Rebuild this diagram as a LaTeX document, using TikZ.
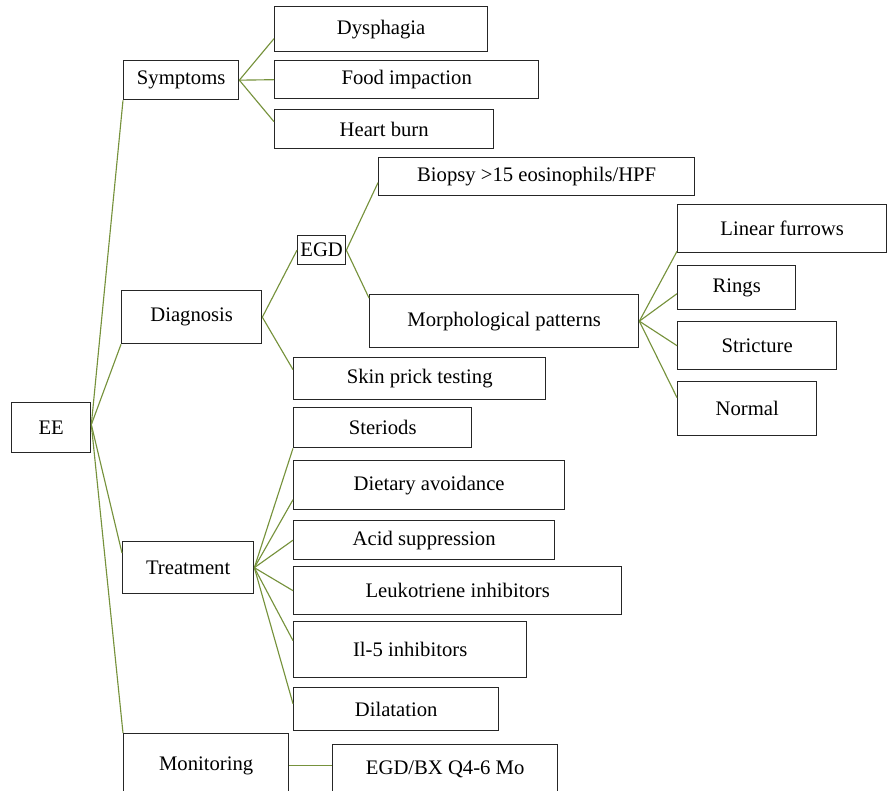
\documentclass[tikz,border=0pt]{standalone}
\usepackage{fontspec}
\setmainfont{Liberation Serif}
\definecolor{branch}{RGB}{118,146,60}
\tikzset{
	box/.style={draw=black!85, line width=1pt, fill=white, inner sep=0pt,
		anchor=north west, font=\fontsize{15.5}{18}\selectfont},
	branchline/.style={draw=branch, line width=0.85pt}
}
\newcommand{\drawbox}[6]{   % name, x, y, width, height, text
	\node[box, minimum width=#4*0.75pt, minimum height=#5*0.75pt] (#1) at (#2, #3) {#6};
}
\begin{document}
\begin{tikzpicture}[x=0.75pt, y=-0.75pt]
\useasboundingbox (0, 0) rectangle (887, 790);

\drawbox{ee}{11}{402}{79}{50}{EE}
\drawbox{sym}{123}{60}{115}{39}{Symptoms}
\drawbox{diag}{121}{290}{140}{53}{Diagnosis}
\drawbox{treat}{122}{541}{131}{52}{Treatment}
\drawbox{mon}{123}{733}{165}{64}{Monitoring}

\drawbox{dys}{274}{6}{213}{45}{Dysphagia}
\drawbox{food}{274}{60}{264}{38}{Food impaction}
\drawbox{heart}{274}{109}{219}{39}{Heart burn}

\drawbox{egd}{297}{235}{48}{29}{EGD}
\drawbox{biopsy}{378}{157}{316}{38}{Biopsy >15 eosinophils/HPF}
\drawbox{morph}{369}{294}{269}{53}{Morphological patterns}
\drawbox{skin}{293}{357}{252}{42}{Skin prick testing}

\drawbox{lin}{677}{204}{209}{48}{Linear furrows}
\drawbox{rings}{677}{265}{118}{44}{Rings}
\drawbox{stric}{677}{321}{159}{48}{Stricture}
\drawbox{norm}{677}{381}{139}{54}{Normal}

\drawbox{ster}{293}{407}{178}{40}{Steriods}
\drawbox{diet}{293}{460}{271}{49}{Dietary avoidance}
\drawbox{acid}{293}{520}{261}{39}{Acid suppression}
\drawbox{leuko}{293}{566}{328}{48}{Leukotriene inhibitors}
\drawbox{ilfive}{293}{621}{233}{56}{Il-5 inhibitors}
\drawbox{dil}{293}{687}{205}{43}{Dilatation}

\drawbox{bx}{332}{744}{225}{50}{EGD/BX Q4-6 Mo}

% EE branches
\draw[branchline] ([yshift=2.3pt]ee.east) -- (sym.south west);
\draw[branchline] ([yshift=2.3pt]ee.east) -- (diag.south west);
\draw[branchline] ([yshift=2.3pt]ee.east) -- ([yshift=-9pt]treat.north west);
\draw[branchline] ([yshift=2.3pt]ee.east) -- (mon.north west);

% symptoms
\draw[branchline] (sym.east) -- ([yshift=-7.1pt]dys.west);
\draw[branchline] (sym.east) -- (food.west);
\draw[branchline] (sym.east) -- ([yshift=5.6pt]heart.west);

% diagnosis
\draw[branchline] (diag.east) -- (egd.west);
\draw[branchline] (diag.east) -- ([yshift=6.8pt]skin.west);
\draw[branchline] (egd.east) -- ([yshift=-4.5pt]biopsy.west);
\draw[branchline] (egd.east) -- ([yshift=-3pt]morph.north west);
\draw[branchline] (morph.east) -- ([yshift=1.5pt]lin.south west);
\draw[branchline] (morph.east) -- ([yshift=-4.5pt]rings.west);
\draw[branchline] (morph.east) -- (stric.west);
\draw[branchline] (morph.east) -- ([yshift=8.3pt]norm.west);

% treatment
\draw[branchline] (treat.east) -- (ster.south west);
\draw[branchline] (treat.east) -- ([yshift=-10.9pt]diet.west);
\draw[branchline] (treat.east) -- (acid.west);
\draw[branchline] (treat.east) -- (leuko.west);
\draw[branchline] (treat.east) -- ([yshift=6.8pt]ilfive.west);
\draw[branchline] (treat.east) -- ([yshift=4.1pt]dil.west);

% monitoring
\draw[branchline] (mon.east) -- (mon.east -| bx.west);

\end{tikzpicture}
\end{document}
